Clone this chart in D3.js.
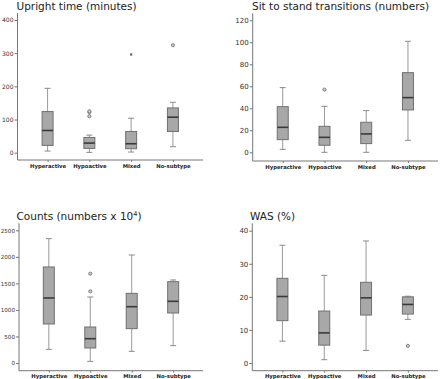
<!DOCTYPE html>
<html>
<head>
<meta charset="utf-8">
<script src="https://cdn.jsdelivr.net/npm/d3@7"></script>
<style>
  html, body { margin: 0; padding: 0; background: #fff; }
  svg { display: block; }
</style>
</head>
<body>
<svg id="chart" width="440" height="379"></svg>
<script>
// ---- Data (five-number summaries: [min whisker, Q1, median, Q3, max whisker]) ----
const categories = ["Hyperactive", "Hypoactive", "Mixed", "No-subtype"];

const uprightStats = [[5, 22, 67, 124, 194], [1, 13, 29, 46, 53], [2, 12, 27, 64, 104], [18, 64, 107, 135, 152]];
const uprightOutliers = [[], [110, 122, 125], [], [324]];
const uprightExtremes = [[], [], [296], []];
const uprightTicks = [0, 100, 200, 300, 400];

const sitStandStats = [[2.7, 11.5, 22.7, 41.5, 58.8], [0, 6.4, 13.6, 23.6, 41.8], [0, 7.9, 16.7, 27.3, 37.9], [10.9, 38.5, 49.7, 72.4, 100.9]];
const sitStandOutliers = [[], [57], [], []];
const sitStandTicks = [0, 20, 40, 60, 80, 100, 120];

const countsStats = [[257, 735, 1225, 1809, 2343], [31, 283, 458, 678, 1243], [220, 647, 1061, 1312, 2035], [327, 942, 1162, 1532, 1564]];
const countsOutliers = [[], [1350, 1683], [], []];
const countsTicks = [0, 500, 1000, 1500, 2000, 2500];

const wasStats = [[6.6, 12.8, 20.1, 25.6, 35.6], [1.0, 5.4, 9.1, 15.7, 26.5], [3.8, 14.5, 19.7, 24.4, 36.9], [13.2, 14.8, 17.7, 20.0, 20.2]];
const wasOutliers = [[], [], [], [5.2]];
const wasTicks = [0, 10, 20, 30, 40];

// ---- Drawing ----
const svg = d3.select("#chart");
const FONT = "'DejaVu Sans', Verdana, sans-serif";

function panel(opt) {
  const g = svg.append("g");
  const x = d3.scalePoint().domain(categories).range([opt.x0, opt.x1]).padding(0.72);
  const y = d3.scaleLinear().domain([0, opt.yMax]).range([opt.y0, opt.yTop]);

  // title
  const t = g.append("text")
    .attr("x", opt.titleX).attr("y", opt.titleY)
    .attr("font-family", FONT).attr("font-size", 10.5).attr("fill", "#222");
  if (opt.titleSup) {
    t.append("tspan").text(opt.title);
    t.append("tspan").attr("dy", -4).attr("font-size", 6.5).text(opt.titleSup);
    t.append("tspan").attr("dy", 4).text(opt.titleEnd);
  } else {
    t.text(opt.title);
  }

  // y axis
  const yAxis = d3.axisLeft(y).tickValues(opt.ticks).tickFormat(d3.format("d"))
    .tickSize(3).tickPadding(1).tickSizeOuter(0);
  const ya = g.append("g").attr("transform", `translate(${opt.x0},0)`).call(yAxis);
  ya.select(".domain").remove();
  ya.selectAll("line").attr("stroke", "#777");
  ya.selectAll("text").attr("font-family", FONT).attr("font-size", opt.tickFont).attr("fill", "#333");
  g.append("line").attr("x1", opt.x0).attr("x2", opt.x0).attr("y1", opt.axisTop).attr("y2", opt.xAxisY)
    .attr("stroke", "#777").attr("stroke-width", 1);

  // x axis
  const xAxis = d3.axisBottom(x).tickSize(2).tickPadding(2).tickSizeOuter(0);
  const xa = g.append("g").attr("transform", `translate(0,${opt.xAxisY})`).call(xAxis);
  xa.select(".domain").remove();
  xa.selectAll("line").attr("stroke", "#777");
  xa.selectAll("text").attr("font-family", FONT).attr("font-size", 5.3).attr("font-weight", "bold").attr("fill", "#222");
  g.append("line").attr("x1", opt.x0).attr("x2", opt.x1).attr("y1", opt.xAxisY).attr("y2", opt.xAxisY)
    .attr("stroke", "#777").attr("stroke-width", 1);

  const bw = 11, cw = 6;
  categories.forEach((c, i) => {
    const s = opt.stats[i];
    const cx = x(c);
    // whiskers
    g.append("line").attr("x1", cx).attr("x2", cx).attr("y1", y(s[0])).attr("y2", y(s[1])).attr("stroke", "#9a9a9a");
    g.append("line").attr("x1", cx).attr("x2", cx).attr("y1", y(s[3])).attr("y2", y(s[4])).attr("stroke", "#9a9a9a");
    g.append("line").attr("x1", cx - cw / 2).attr("x2", cx + cw / 2).attr("y1", y(s[0])).attr("y2", y(s[0])).attr("stroke", "#8a8a8a");
    g.append("line").attr("x1", cx - cw / 2).attr("x2", cx + cw / 2).attr("y1", y(s[4])).attr("y2", y(s[4])).attr("stroke", "#8a8a8a");
    // box
    g.append("rect").attr("x", cx - bw / 2).attr("width", bw)
      .attr("y", y(s[3])).attr("height", y(s[1]) - y(s[3]))
      .attr("fill", "#a8a8a8").attr("stroke", "#707070").attr("stroke-width", 1);
    // median
    g.append("line").attr("x1", cx - bw / 2).attr("x2", cx + bw / 2).attr("y1", y(s[2])).attr("y2", y(s[2]))
      .attr("stroke", "#3a3a3a").attr("stroke-width", 1.6);
    // outliers
    (opt.outliers[i] || []).forEach(v => {
      g.append("circle").attr("cx", cx).attr("cy", y(v)).attr("r", 1.6)
        .attr("fill", "#c8c8c8").attr("stroke", "#707070").attr("stroke-width", 0.8);
    });
    ((opt.extremes || [])[i] || []).forEach(v => {
      g.append("path").attr("d", d3.symbol(d3.symbolAsterisk, 5)())
        .attr("transform", `translate(${cx},${y(v)})`)
        .attr("fill", "none").attr("stroke", "#555").attr("stroke-width", 0.9);
    });
  });
}

panel({ title: "Upright time (minutes)", titleX: 16.5, titleY: 9.5,
  x0: 17.5, x1: 203, y0: 152.7, yTop: 20, yMax: 400, axisTop: 13, xAxisY: 160,
  ticks: uprightTicks, tickFont: 6, stats: uprightStats, outliers: uprightOutliers, extremes: uprightExtremes });

panel({ title: "Sit to stand transitions (numbers)", titleX: 252, titleY: 9.5,
  x0: 252.7, x1: 438, y0: 152.3, yTop: 20.3, yMax: 120, axisTop: 13.3, xAxisY: 161,
  ticks: sitStandTicks, tickFont: 7, stats: sitStandStats, outliers: sitStandOutliers });

panel({ title: "Counts (numbers x 10", titleSup: "4", titleEnd: ")", titleX: 16.5, titleY: 219.5,
  x0: 19, x1: 203, y0: 363, yTop: 230.3, yMax: 2500, axisTop: 223.3, xAxisY: 370.7,
  ticks: countsTicks, tickFont: 5.6, stats: countsStats, outliers: countsOutliers });

panel({ title: "WAS (%)", titleX: 250, titleY: 219.5,
  x0: 252.3, x1: 438, y0: 363, yTop: 230.7, yMax: 40, axisTop: 223.3, xAxisY: 370.7,
  ticks: wasTicks, tickFont: 7, stats: wasStats, outliers: wasOutliers });
</script>
</body>
</html>
